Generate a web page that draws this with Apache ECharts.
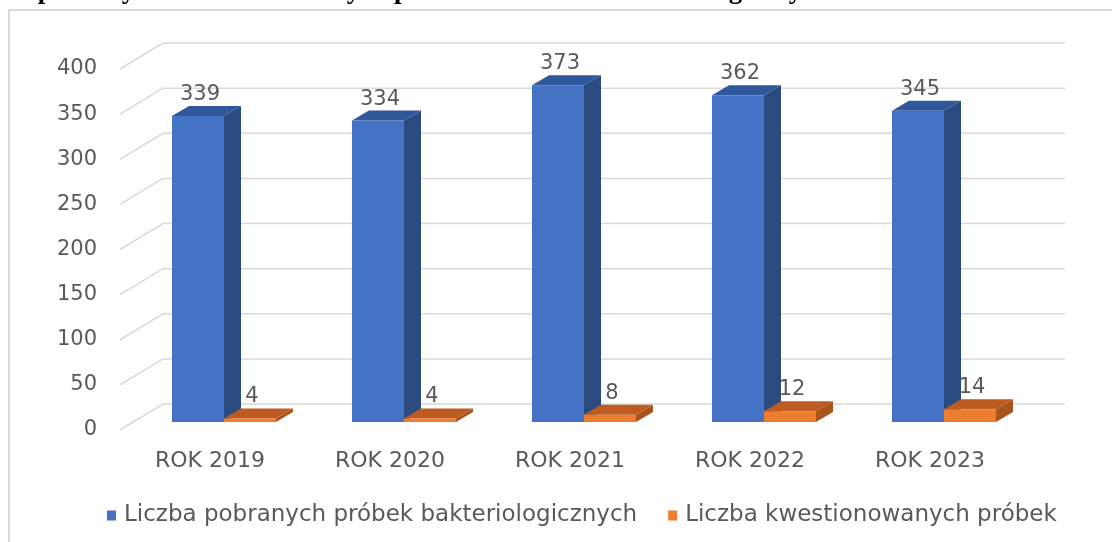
<!DOCTYPE html>
<html>
<head>
<meta charset="utf-8">
<script src="https://cdn.jsdelivr.net/npm/echarts@6/dist/echarts.min.js"></script>
<style>
  html, body { margin: 0; padding: 0; background: #fff; }
  #chart { width: 1112px; height: 542px; }
</style>
</head>
<body>
<div id="chart"></div>
<script>
// dane
var years = ['ROK 2019', 'ROK 2020', 'ROK 2021', 'ROK 2022', 'ROK 2023'];
var pobrane = [339, 334, 373, 362, 345];
var kwestionowane = [4, 4, 8, 12, 14];
var yTicks = [0, 50, 100, 150, 200, 250, 300, 350, 400];
var seriesNames = ['Liczba pobranych próbek bakteriologicznych', 'Liczba kwestionowanych próbek'];
var title = 'a pobranych i kwestionowanych próbek w zakresie bakteriologicznym w latach 2019-2023';

var FONT = '"DejaVu Sans", sans-serif';
var GREY = '#595959';

// kolory: przód, bok, góra
var palette = [
  { front: '#4472c4', side: '#2b4a80', top: '#30579b' },
  { front: '#ed7d31', side: '#a9531d', top: '#bd5b20' }
];

function makeBar3d(idx){
  return function(params, api){
    var i = api.value(0), v = api.value(1);
    var base = api.coord([i, 0]);
    var top = api.coord([i, v]);
    var band = api.size([1, 0])[0];
    var bw = band * 52 / 180;
    var dx = bw * 17 / 52, dy = 10;
    var x0 = idx === 0 ? base[0] - bw : base[0];
    var c = palette[idx];
    var yt = top[1], yb = base[1];
    return {
      type: 'group',
      children: [
        { type: 'polygon', shape: { points: [[x0 + bw, yt], [x0 + bw + dx, yt - dy], [x0 + bw + dx, yb - dy], [x0 + bw, yb]] },
          style: { fill: c.side } },
        { type: 'polygon', shape: { points: [[x0, yt], [x0 + dx, yt - dy], [x0 + bw + dx, yt - dy], [x0 + bw, yt]] },
          style: { fill: c.top } },
        { type: 'rect', shape: { x: x0, y: yt, width: bw, height: yb - yt },
          style: { fill: c.front } },
        { type: 'text', style: { text: String(v), x: x0 + bw / 2 + 2, y: yt - dy - 1,
          align: 'center', verticalAlign: 'bottom', font: '21px ' + FONT, fill: GREY } }
      ]
    };
  };
}

var chart = echarts.init(document.getElementById('chart'));
chart.setOption({
  animation: false,
  backgroundColor: '#fff',
  graphic: [
    { type: 'rect', shape: { x: 9, y: 10, width: 1200, height: 600 },
      style: { fill: 'none', stroke: '#d9d9d9', lineWidth: 2 }, z: -10 },
    { type: 'text', style: { text: title, x: 1052, y: 5, align: 'right', verticalAlign: 'bottom',
      font: 'bold 27px "Liberation Serif", serif', fill: '#000' } }
  ],
  grid: [
    { left: 134, width: 900, top: 61, bottom: 120 },   // słupki
    { left: 120, width: 900, top: 69, bottom: 112 }    // osie i siatka
  ],
  xAxis: [
    { gridIndex: 0, type: 'category', data: years, show: false },
    { gridIndex: 1, type: 'category', data: years,
      axisLine: { show: false }, axisTick: { show: false },
      axisLabel: { fontFamily: FONT, fontSize: 22, color: GREY, margin: 20 } }
  ],
  yAxis: [
    { gridIndex: 0, type: 'value', min: 0, max: 400, interval: 50, show: false },
    { gridIndex: 1, type: 'value', min: 0, max: 400, interval: 50,
      axisLine: { show: false }, axisTick: { show: false }, splitLine: { show: false },
      axisLabel: { fontFamily: FONT, fontSize: 21, color: GREY, margin: 23 } }
  ],
  legend: {
    left: 102, top: 499, icon: 'rect', itemWidth: 9, itemHeight: 10, itemGap: 31,
    data: seriesNames,
    textStyle: { fontFamily: FONT, fontSize: 23, color: GREY, padding: [0, 0, 0, 3] }
  },
  series: [
    {
      type: 'custom', name: 'siatka', xAxisIndex: 1, yAxisIndex: 1, z: 0, silent: true,
      data: yTicks.map(function(v){ return [0, v]; }),
      renderItem: function(params, api){
        var cs = params.coordSys;
        var y = api.coord([0, api.value(1)])[1];
        return { type: 'polyline',
          shape: { points: [[cs.x, y], [cs.x + 43, y - 26], [cs.x + cs.width + 45, y - 26]] },
          style: { stroke: '#d9d9d9', lineWidth: 1.5, fill: 'none' } };
      }
    },
    {
      type: 'custom', name: seriesNames[0], xAxisIndex: 0, yAxisIndex: 0, z: 2,
      itemStyle: { color: palette[0].front },
      data: pobrane.map(function(v, i){ return [i, v]; }),
      renderItem: makeBar3d(0)
    },
    {
      type: 'custom', name: seriesNames[1], xAxisIndex: 0, yAxisIndex: 0, z: 2,
      itemStyle: { color: palette[1].front },
      data: kwestionowane.map(function(v, i){ return [i, v]; }),
      renderItem: makeBar3d(1)
    }
  ]
});
</script>
</body>
</html>
